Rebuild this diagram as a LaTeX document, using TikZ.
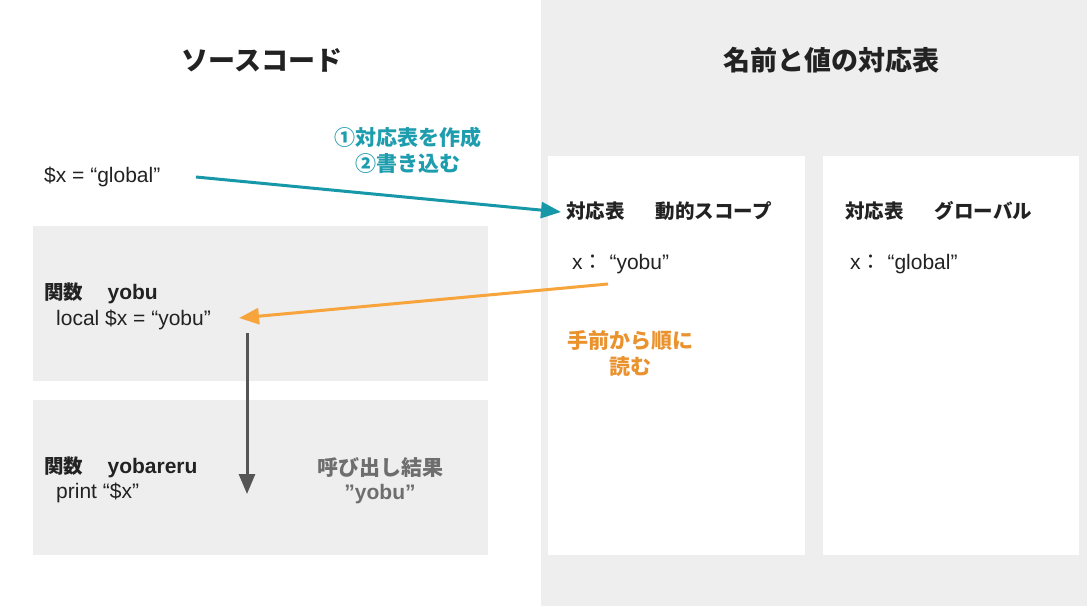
\documentclass[tikz,border=0pt]{standalone}
\usepackage{fontspec}
\setmainfont{Liberation Sans}
\newfontfamily\jp{Noto Sans CJK JP}
\usetikzlibrary{arrows.meta}
\definecolor{panel}{HTML}{EEEEEE}
\definecolor{tealc}{HTML}{1698A8}
\definecolor{tealtxt}{HTML}{1E9DAE}
\definecolor{orangec}{HTML}{F7A43C}
\definecolor{orangetxt}{HTML}{EA922E}
\definecolor{darkarrow}{HTML}{555555}
\definecolor{txt}{HTML}{222222}
\definecolor{graytxt}{HTML}{6E6E6E}
\begin{document}
\begin{tikzpicture}[x=1pt,y=-1pt,
  gbox/.style={fill=panel,draw=none,anchor=north west,inner sep=0pt},
  wbox/.style={fill=white,draw=none,anchor=north west,inner sep=0pt},
  title/.style={font=\jp\bfseries\fontsize{27}{32}\selectfont,text=txt,inner sep=0pt},
  head/.style={font=\jp\bfseries\fontsize{19.5}{23}\selectfont,text=txt,anchor=base west,inner sep=0pt},
  code/.style={font=\fontsize{21}{25}\selectfont,text=txt,anchor=base west,inner sep=0pt},
  note/.style={font=\jp\bfseries\fontsize{21}{26}\selectfont,align=center,inner sep=0pt},
  arr/.style={line width=3pt,-{Triangle[length=20pt,width=16pt]}}
]
\useasboundingbox (0,0) rectangle (1087,606);
\fill[white] (0,0) rectangle (1087,606);
\node[gbox,minimum width=546,minimum height=606] (right) at (541,0) {};
% titles
\node[title] (t1) at (262,60) {ソースコード};
\node[title] (t2) at (831,60) {名前と値の対応表};
% left boxes
\node[gbox,minimum width=455,minimum height=155] (f1) at (33,226) {};
\node[gbox,minimum width=455,minimum height=155] (f2) at (33,400) {};
% right boxes
\node[wbox,minimum width=257,minimum height=399] (ta) at (548,156) {};
\node[wbox,minimum width=256,minimum height=399] (tb) at (823,156) {};
% source code texts
\node[code] (g) at (44,182) {\$x = “global”};
\node[head] (h1) at (44,299) {関数\hspace{1.25em}{\rmfamily\bfseries\fontsize{21}{25}\selectfont yobu}};
\node[code] (l1) at (56,325) {local \$x = “yobu”};
\node[head] (h2) at (44,473) {関数\hspace{1.25em}{\rmfamily\bfseries\fontsize{21}{25}\selectfont yobareru}};
\node[code] (l2) at (56,498) {print “\$x”};
\node[note,text=graytxt] (res) at (380,481) {呼び出し結果\\[-2pt]{\rmfamily\bfseries\fontsize{21}{25}\selectfont ”yobu”}};
% table texts
\node[head] (da) at (566,218) {対応表\hspace{1.6em}動的スコープ};
\node[code] (xa) at (572,269) {x{\jp ：} “yobu”};
\node[head] (gb) at (845,218) {対応表\hspace{1.6em}グローバル};
\node[code] (xb) at (850,269) {x{\jp ：} “global”};
% notes
\node[note,text=tealtxt] (n1) at (408,150) {①対応表を作成\\②書き込む};
\node[note,text=orangetxt] (n2) at (630,354) {手前から順に\\読む};
% arrow end points
\coordinate (ts) at (196,177);
\coordinate (te) at (561,212);
\coordinate (os) at (608,284);
\coordinate (oe) at (239,318);
\coordinate (ds) at (247,333);
\coordinate (de) at (247,494);
\draw[arr,draw=tealc,fill=tealc] (ts) -- (te);
\draw[arr,draw=orangec,fill=orangec] (os) -- (oe);
\draw[arr,draw=darkarrow,fill=darkarrow] (ds) -- (de);
\end{tikzpicture}
\end{document}
